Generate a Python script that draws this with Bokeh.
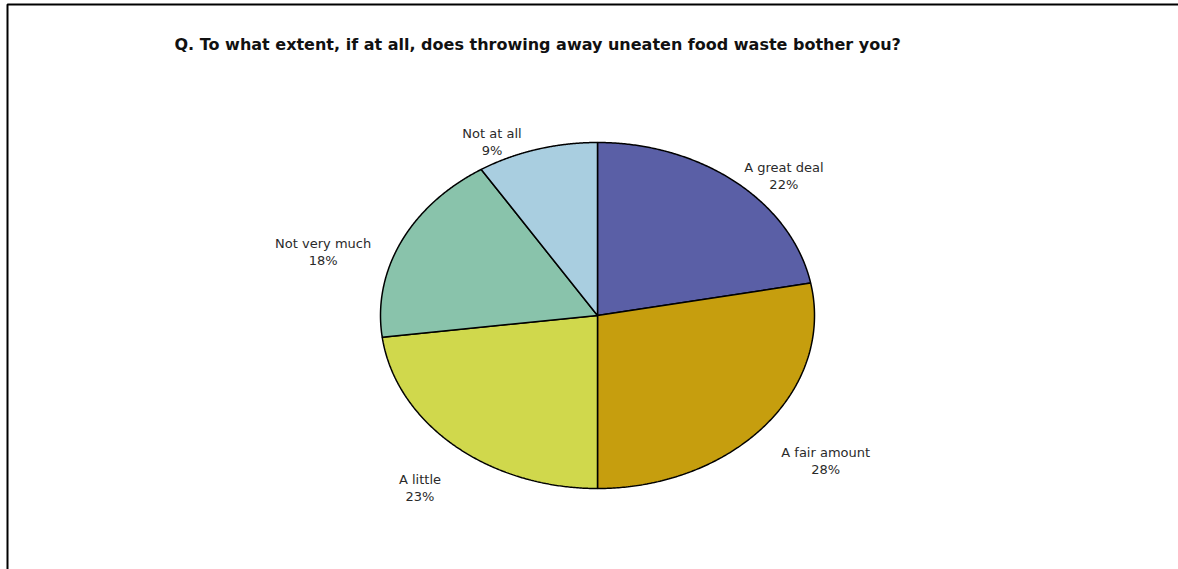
import numpy as np
from bokeh.plotting import figure
from bokeh.models import Range1d, BoxAnnotation
from bokeh.core.properties import value
from bokeh.embed import file_html
from bokeh.resources import INLINE

# ---- data ----
categories = ["A great deal", "A fair amount", "A little", "Not very much", "Not at all"]
percents = [22, 28, 23, 18, 9]
colors = ["#5A5FA6", "#C69E0E", "#D0D84C", "#89C3AB", "#A9CEE0"]
title_text = "Q. To what extent, if at all, does throwing away uneaten food waste bother you?"

# ---- layout / style ----
W, H = 1178, 569
cx, cy = 597, 315          # pie centre (pixel space)
rx, ry = 217, 173          # ellipse radii
# label offsets (pixels) from the slice's mid-point on the ellipse rim
label_dx = [48, 61, -34, -78, -45]
label_dy = [-6, 35, 43, 10, -7]

p = figure(width=W, height=H, output_backend="svg", toolbar_location=None,
           x_range=Range1d(0, W), y_range=Range1d(H, 0), min_border=0)
p.axis.visible = False
p.grid.visible = False
p.outline_line_color = None
p.background_fill_color = "white"
p.border_fill_color = "white"

total = float(sum(percents))
cum = np.concatenate([[0], np.cumsum(percents)]) / total
xs, ys, mx, my = [], [], [], []
for i in range(len(percents)):
    a0, a1 = cum[i] * 2 * np.pi, cum[i + 1] * 2 * np.pi
    t = np.linspace(a0, a1, 200)
    px = cx + rx * np.sin(t)
    py = cy - ry * np.cos(t)
    xs.append([cx] + list(px) + [cx])
    ys.append([cy] + list(py) + [cy])
    am = (a0 + a1) / 2
    mx.append(cx + rx * np.sin(am) + label_dx[i])
    my.append(cy - ry * np.cos(am) + label_dy[i])

p.patches(xs, ys, fill_color=colors, line_color="black", line_width=1.5)

names_y = [y - 8.5 for y in my]
pct_y = [y + 8.5 for y in my]
p.text(x=mx, y=names_y, text=categories, text_align="center", text_baseline="middle",
       text_font=value("DejaVu Sans"), text_font_size="13px", text_color="#2a2a2a")
p.text(x=mx, y=pct_y, text=[f"{v}%" for v in percents], text_align="center",
       text_baseline="middle", text_font=value("DejaVu Sans"), text_font_size="13px",
       text_color="#2a2a2a")

p.text(x=[174], y=[44], text=[title_text], text_align="left", text_baseline="middle",
       text_font=value("DejaVu Sans"), text_font_style="bold", text_font_size="16px",
       text_color="#111111")

# frame
p.add_layout(BoxAnnotation(left=7, right=W + 10, top=4, bottom=H + 10,
                           fill_alpha=0, line_color="black", line_alpha=1.0, line_width=2))

open("out.html", "w").write(file_html(p, INLINE))
